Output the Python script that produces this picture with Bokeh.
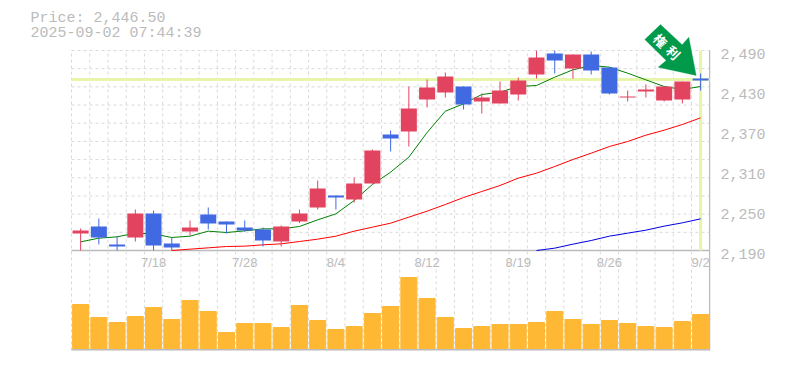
from bokeh.plotting import figure
from bokeh.embed import file_html
from bokeh.resources import INLINE
from bokeh.models import (ColumnDataSource, FixedTicker, Label, LinearAxis, Range1d,
                          PolyAnnotation, NumeralTickFormatter)
from bokeh.core.properties import value

dates = ["7/14","7/15","7/16","7/17","7/18","7/22","7/23","7/24","7/25","7/28",
         "7/29","7/30","7/31","8/1","8/4","8/5","8/6","8/7","8/8","8/12",
         "8/13","8/14","8/15","8/18","8/19","8/20","8/21","8/22","8/25","8/26",
         "8/27","8/28","8/29","9/1","9/2"]
opens = [2215.5,2226,2199,2209.5,2245.5,2200.5,2218.5,2244,2233.5,2224.5,
         2221.5,2203.5,2233.5,2254.5,2272.5,2266.5,2290.5,2364,2368.5,2416.5,
         2427,2436,2413.5,2410.5,2424,2454,2485.5,2463,2484,2464.5,
         2419.5,2428.5,2415,2416.5,2448]
closes = [2220,2209.5,2196,2245.5,2197.5,2194.5,2224.5,2230.5,2229,2220,
          2205,2226,2245.5,2283,2269.5,2290.5,2340,2358,2403,2434.5,
          2451,2409,2419.5,2430,2445,2479.5,2475,2484,2460,2425.5,
          2421,2431.5,2436,2443.5,2445]
highs = [2223,2238,2211,2251.5,2250,2209.5,2235,2254.5,2233.5,2235,
         2224.5,2227.5,2251.5,2295,2272.5,2299.5,2341.5,2370,2436,2446.5,
         2457,2436,2425.5,2443.5,2449.5,2490,2490,2484,2488.5,2464.5,
         2430,2439,2436,2443.5,2455.5]
lows = [2190,2199,2190,2203.5,2190,2190,2212.5,2221.5,2215.5,2218.5,
        2196,2196,2231,2251.5,2251.5,2262,2290.5,2338.5,2346,2404.5,
        2419.5,2401.5,2395.5,2410.5,2415,2448,2455.5,2448,2454,2424,
        2413.5,2419.5,2413.5,2410.5,2430]
ma_short = [2203,2208.5,2210.5,2216,2215,2209.5,2211.5,2219,2217,2219.5,
            2222.5,2222.5,2226,2236,2245,2265,2289,2307.5,2330,2367,
            2399,2410,2424,2427.5,2436,2437.5,2450,2461,2467.5,2465,
            2456,2446,2436,2431.5,2436]
ma_mid_idx = list(range(5, 35))
ma_mid = [2190,2192,2194,2196,2196.5,2198.5,2200,2203.5,2207,2211.5,
          2219,2225,2231,2240,2249,2259,2269.5,2278.5,2287.5,2298.5,
          2306,2316,2326.5,2336,2346,2353.5,2363,2370.5,2379,2389]
ma_long_idx = list(range(25, 35))
ma_long = [2190,2193.5,2199.5,2205,2211.5,2216,2220.5,2226.5,2231.5,2237.5]
volumes = [44,31,26,32,41,29,48,37,16,25,25,21,43,28,19,22,35,42,71,50,
           31,20,22,24,24,26,37,29,24,28,25,22,21,27,34]
label_idx = [4, 9, 14, 19, 24, 29, 34]
price_ticks = [2190, 2250, 2310, 2370, 2430, 2490]
current_price = 2446.5
price_text = "Price: 2,446.50"
time_text = "2025-09-02 07:44:39"
arrow_chars = ["権", "利"]

RED, BLUE, ORANGE = "#E2435F", "#4169E1", "#FFB833"
GRID, AXIS, TEXT, BAND = "#d9d9d9", "#bbbbbb", "#bbbbbb", "#E6F5A8"
MONO = "Liberation Mono"

n = len(dates)
idx = list(range(n))
slot = 18.235             # pixels per candle
left_pad = 71 / slot      # room for the header, in candle units
P_TOP, P_BOT, V_BOT = 2490, 2190, 2040
y_top = P_TOP + 50 * 1.5  # room above the chart for header and arrow
x_start = -0.5 - left_pad

p = figure(width=785, height=365, output_backend="svg", toolbar_location=None,
           x_range=Range1d(x_start, x_start + 710 / slot), y_range=Range1d(V_BOT, y_top),
           min_border_left=0, min_border_right=75, min_border_top=0, min_border_bottom=15,
           outline_line_color=None, background_fill_color="white")
p.xaxis.visible = False
p.yaxis.visible = False
p.grid.visible = False
p.extra_y_ranges = {"vol": Range1d(-2, 348), "lab": Range1d(V_BOT + 4.5, y_top + 4.5)}

ax = LinearAxis(y_range_name="lab", ticker=FixedTicker(ticks=price_ticks),
                formatter=NumeralTickFormatter(format="0,0"),
                axis_line_color=None, major_tick_line_color=None, minor_tick_line_color=None,
                major_label_text_color=TEXT, major_label_text_font=MONO,
                major_label_text_font_size="15px", major_label_standoff=4)
p.add_layout(ax, "right")

# grid
grid_x = [i - 0.5 for i in range(n + 1)]
grid_y = [P_BOT + k * (P_TOP - P_BOT) / 11 for k in range(12)]
p.segment(x0=grid_x, x1=grid_x, y0=[V_BOT] * len(grid_x), y1=[P_TOP] * len(grid_x),
          line_color=GRID, line_dash="3 3", line_width=1)
p.segment(x0=[-0.5] * len(grid_y), x1=[n - 0.5] * len(grid_y), y0=grid_y, y1=grid_y,
          line_color=GRID, line_dash="3 3", line_width=1)

# frame lines
p.line(x=[-0.5, n - 0.5], y=[P_BOT, P_BOT], line_color=AXIS, line_width=1.5)
p.line(x=[-0.5, n - 0.5], y=[V_BOT, V_BOT], line_color=AXIS, line_width=3)
p.line(x=[n - 0.5, n - 0.5], y=[V_BOT, P_TOP], line_color=AXIS, line_width=1.5)

# volume
p.vbar(x=idx, top=volumes, bottom=0, width=16 / slot, color=ORANGE, y_range_name="vol")

# current price guides
p.line(x=[-0.5, n - 0.5], y=[current_price] * 2, line_color=BAND, line_width=3)
p.line(x=[n - 1, n - 1], y=[P_BOT, P_TOP], line_color=BAND, line_width=3)

# moving averages
p.line(x=idx, y=ma_short, line_color="#008000", line_width=1)
p.line(x=ma_mid_idx, y=ma_mid, line_color="#FF0000", line_width=1)
p.line(x=ma_long_idx, y=ma_long, line_color="#0000E0", line_width=1)

# candles
colors = [RED if c >= o else BLUE for o, c in zip(opens, closes)]
src = ColumnDataSource(dict(x=idx, o=opens, c=closes, h=highs, l=lows, color=colors))
p.segment(x0="x", x1="x", y0="l", y1="h", line_color="color", line_width=1, source=src)
p.vbar(x="x", top="o", bottom="c", width=16 / slot, fill_color="color", line_color=None, source=src)

# date labels
p.text(x=label_idx, y=[P_BOT] * len(label_idx), text=[dates[i] for i in label_idx],
       text_color=TEXT, text_font=value("Liberation Sans"), text_font_size="13px", text_align="center",
       text_baseline="middle", y_offset=12)

# header (annotation screen units count from the frame's lower left corner)
for txt, yy in ((price_text, 350 - 18), (time_text, 350 - 33)):
    p.add_layout(Label(x=30, y=yy, x_units="screen", y_units="screen", text=txt, text_color=TEXT,
                       text_font=MONO, text_font_size="15px", text_baseline="middle"))

# arrow annotation
ax_px = [660, 644.3, 665.7, 657.7, 695.7, 688.3, 681.7]
ay_px = [24, 39, 60, 66.7, 75, 36.7, 44.3]
p.add_layout(PolyAnnotation(xs=ax_px, ys=[350 - a for a in ay_px],
                            xs_units="screen", ys_units="screen",
                            fill_color="#009A4A", fill_alpha=1, line_color="#009A4A"))
for ch, cx, cy in zip(arrow_chars, (660, 673), (40, 52)):
    p.add_layout(Label(x=cx, y=350 - cy, x_units="screen", y_units="screen", text=ch,
                       angle=-45, angle_units="deg", text_color="white", text_font_style="bold",
                       text_font="Noto Sans CJK JP", text_font_size="13px",
                       text_align="center", text_baseline="middle"))

open("out.html", "w").write(file_html(p, INLINE))
